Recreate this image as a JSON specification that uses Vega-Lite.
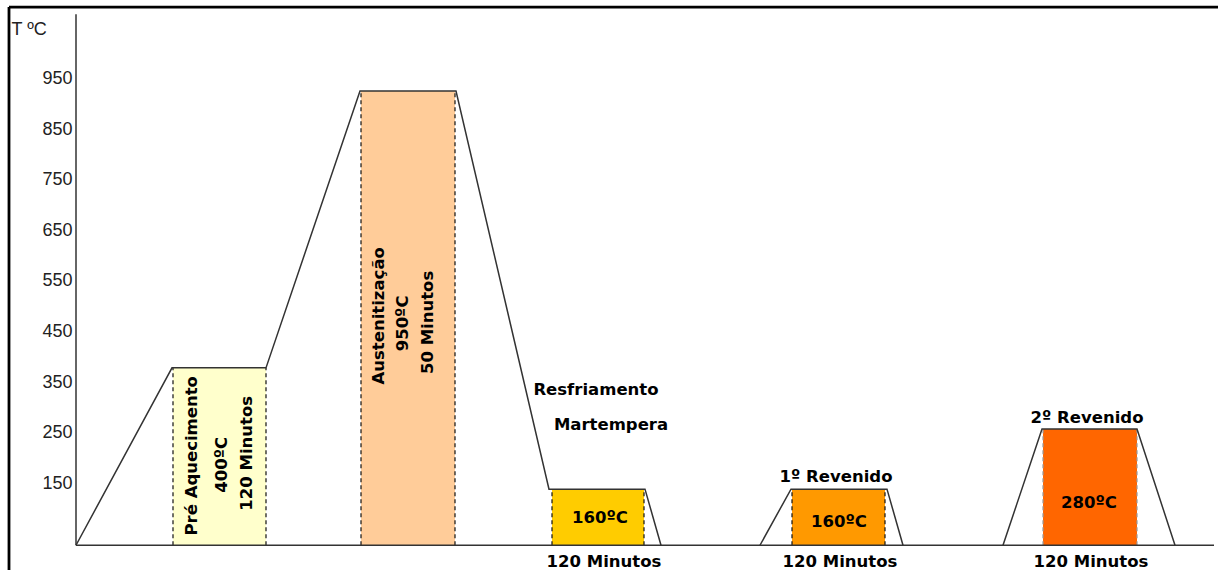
{
  "$schema": "https://vega.github.io/schema/vega-lite/v6.json",
  "width": 1142,
  "height": 570,
  "autosize": {"type": "none"},
  "padding": {"left": 76, "top": 0, "right": 0, "bottom": 0},
  "background": "white",
  "config": {
    "view": {"stroke": null},
    "axisY": {
      "domain": false, "ticks": false, "tickSize": 0, "grid": false,
      "labelPadding": 4, "labelFont": "Liberation Sans", "labelFontSize": 18, "labelColor": "#222",
      "titleAngle": 0, "titleAlign": "left", "titleBaseline": "alphabetic",
      "titleX": -65, "titleY": 34, "titleFont": "Liberation Sans", "titleFontSize": 18,
      "titleFontWeight": "normal", "titleColor": "#222"
    }
  },
  "datasets": {
    "profile": [
      {"seg": "A", "t": 0, "temp": 27},
      {"seg": "A", "t": 96, "temp": 378},
      {"seg": "A", "t": 190, "temp": 378},
      {"seg": "A", "t": 284, "temp": 926},
      {"seg": "A", "t": 380, "temp": 926},
      {"seg": "A", "t": 473, "temp": 138},
      {"seg": "A", "t": 569, "temp": 138},
      {"seg": "A", "t": 585, "temp": 27},
      {"seg": "B", "t": 684, "temp": 27},
      {"seg": "B", "t": 715, "temp": 138},
      {"seg": "B", "t": 811, "temp": 138},
      {"seg": "B", "t": 827, "temp": 27},
      {"seg": "C", "t": 927, "temp": 27},
      {"seg": "C", "t": 966, "temp": 257},
      {"seg": "C", "t": 1061, "temp": 257},
      {"seg": "C", "t": 1099, "temp": 27}
    ],
    "boxes": [
      {"stage": "Pré Aquecimento", "t0": 97, "t1": 190, "base": 27, "top": 378},
      {"stage": "Austenitização", "t0": 285, "t1": 379, "base": 27, "top": 926},
      {"stage": "Martempera", "t0": 476, "t1": 568, "base": 27, "top": 138},
      {"stage": "1º Revenido", "t0": 716, "t1": 809, "base": 27, "top": 138},
      {"stage": "2º Revenido", "t0": 967, "t1": 1061, "base": 27, "top": 257}
    ],
    "frame": [
      {"t": -67, "temp": 1092, "t2": 1142, "temp2": 1092},
      {"t": -67, "temp": 1092, "t2": -67, "temp2": -22}
    ],
    "axes": [
      {"t": 0, "temp": 27, "t2": 1138, "temp2": 27},
      {"t": 0, "temp": 27, "t2": 0, "temp2": 1078}
    ],
    "hlabels": [
      {"label": "Resfriamento", "t": 520, "temp": 324},
      {"label": "Martempera", "t": 535, "temp": 255},
      {"label": "160ºC", "t": 524, "temp": 71},
      {"label": "120 Minutos", "t": 528, "temp": -16},
      {"label": "1º Revenido", "t": 760, "temp": 152},
      {"label": "160ºC", "t": 763, "temp": 63},
      {"label": "120 Minutos", "t": 764, "temp": -16},
      {"label": "2º Revenido", "t": 1011, "temp": 269},
      {"label": "280ºC", "t": 1013, "temp": 101},
      {"label": "120 Minutos", "t": 1015, "temp": -16}
    ],
    "vlabels": [
      {"label": "Pré Aquecimento", "t": 115.5, "temp": 204},
      {"label": "400ºC", "t": 145.5, "temp": 186},
      {"label": "120 Minutos", "t": 170.5, "temp": 209},
      {"label": "Austenitização", "t": 303, "temp": 481},
      {"label": "950ºC", "t": 327, "temp": 466},
      {"label": "50 Minutos", "t": 352, "temp": 468}
    ]
  },
  "layer": [
    {
      "data": {"name": "boxes"},
      "mark": {"type": "rect"},
      "encoding": {
        "x": {"field": "t0", "type": "quantitative", "scale": {"domain": [0, 1142], "nice": false, "zero": false}, "axis": null},
        "x2": {"field": "t1"},
        "y": {"field": "base", "type": "quantitative", "scale": {"domain": [-22, 1106], "nice": false, "zero": false},
          "axis": {"title": "T ºC", "values": [150, 250, 350, 450, 550, 650, 750, 850, 950]}},
        "y2": {"field": "top"},
        "color": {"field": "stage", "type": "nominal", "legend": null,
          "scale": {"domain": ["Pré Aquecimento", "Austenitização", "Martempera", "1º Revenido", "2º Revenido"],
                    "range": ["#FFFFCC", "#FFCC99", "#FFCC00", "#FF9900", "#FF6600"]}}
      }
    },
    {
      "data": {"name": "boxes"},
      "transform": [{"fold": ["t0", "t1"], "as": ["edge", "tedge"]}],
      "mark": {"type": "rule", "strokeWidth": 1.2, "strokeDash": [4, 3]},
      "encoding": {
        "x": {"field": "tedge", "type": "quantitative", "axis": null},
        "y": {"field": "base", "type": "quantitative", "axis": {"title": "T ºC", "values": [150, 250, 350, 450, 550, 650, 750, 850, 950]}},
        "y2": {"field": "top"},
        "stroke": {"condition": {"test": "datum.stage === '2º Revenido'", "value": "#9a9a9a"}, "value": "#111"}
      }
    },
    {
      "data": {"name": "profile"},
      "mark": {"type": "line", "color": "#333", "strokeWidth": 1.5},
      "encoding": {
        "x": {"field": "t", "type": "quantitative", "axis": null},
        "y": {"field": "temp", "type": "quantitative", "axis": {"title": "T ºC", "values": [150, 250, 350, 450, 550, 650, 750, 850, 950]}},
        "detail": {"field": "seg", "type": "nominal"}
      }
    },
    {
      "data": {"name": "axes"},
      "mark": {"type": "rule", "color": "#333", "strokeWidth": 1.5},
      "encoding": {
        "x": {"field": "t", "type": "quantitative", "axis": null},
        "x2": {"field": "t2"},
        "y": {"field": "temp", "type": "quantitative", "axis": {"title": "T ºC", "values": [150, 250, 350, 450, 550, 650, 750, 850, 950]}},
        "y2": {"field": "temp2"}
      }
    },
    {
      "data": {"name": "frame"},
      "mark": {"type": "rule", "color": "#000", "strokeWidth": 2.8},
      "encoding": {
        "x": {"field": "t", "type": "quantitative", "axis": null},
        "x2": {"field": "t2"},
        "y": {"field": "temp", "type": "quantitative", "axis": {"title": "T ºC", "values": [150, 250, 350, 450, 550, 650, 750, 850, 950]}},
        "y2": {"field": "temp2"}
      }
    },
    {
      "data": {"name": "hlabels"},
      "mark": {"type": "text", "font": "DejaVu Sans", "fontWeight": "bold", "fontSize": 16.5, "color": "#000", "align": "center", "baseline": "alphabetic"},
      "encoding": {
        "x": {"field": "t", "type": "quantitative", "axis": null},
        "y": {"field": "temp", "type": "quantitative", "axis": {"title": "T ºC", "values": [150, 250, 350, 450, 550, 650, 750, 850, 950]}},
        "text": {"field": "label"}
      }
    },
    {
      "data": {"name": "vlabels"},
      "mark": {"type": "text", "font": "DejaVu Sans", "fontWeight": "bold", "fontSize": 16.5, "color": "#000", "align": "center", "baseline": "middle", "angle": 270},
      "encoding": {
        "x": {"field": "t", "type": "quantitative", "axis": null},
        "y": {"field": "temp", "type": "quantitative", "axis": {"title": "T ºC", "values": [150, 250, 350, 450, 550, 650, 750, 850, 950]}},
        "text": {"field": "label"}
      }
    }
  ]
}
